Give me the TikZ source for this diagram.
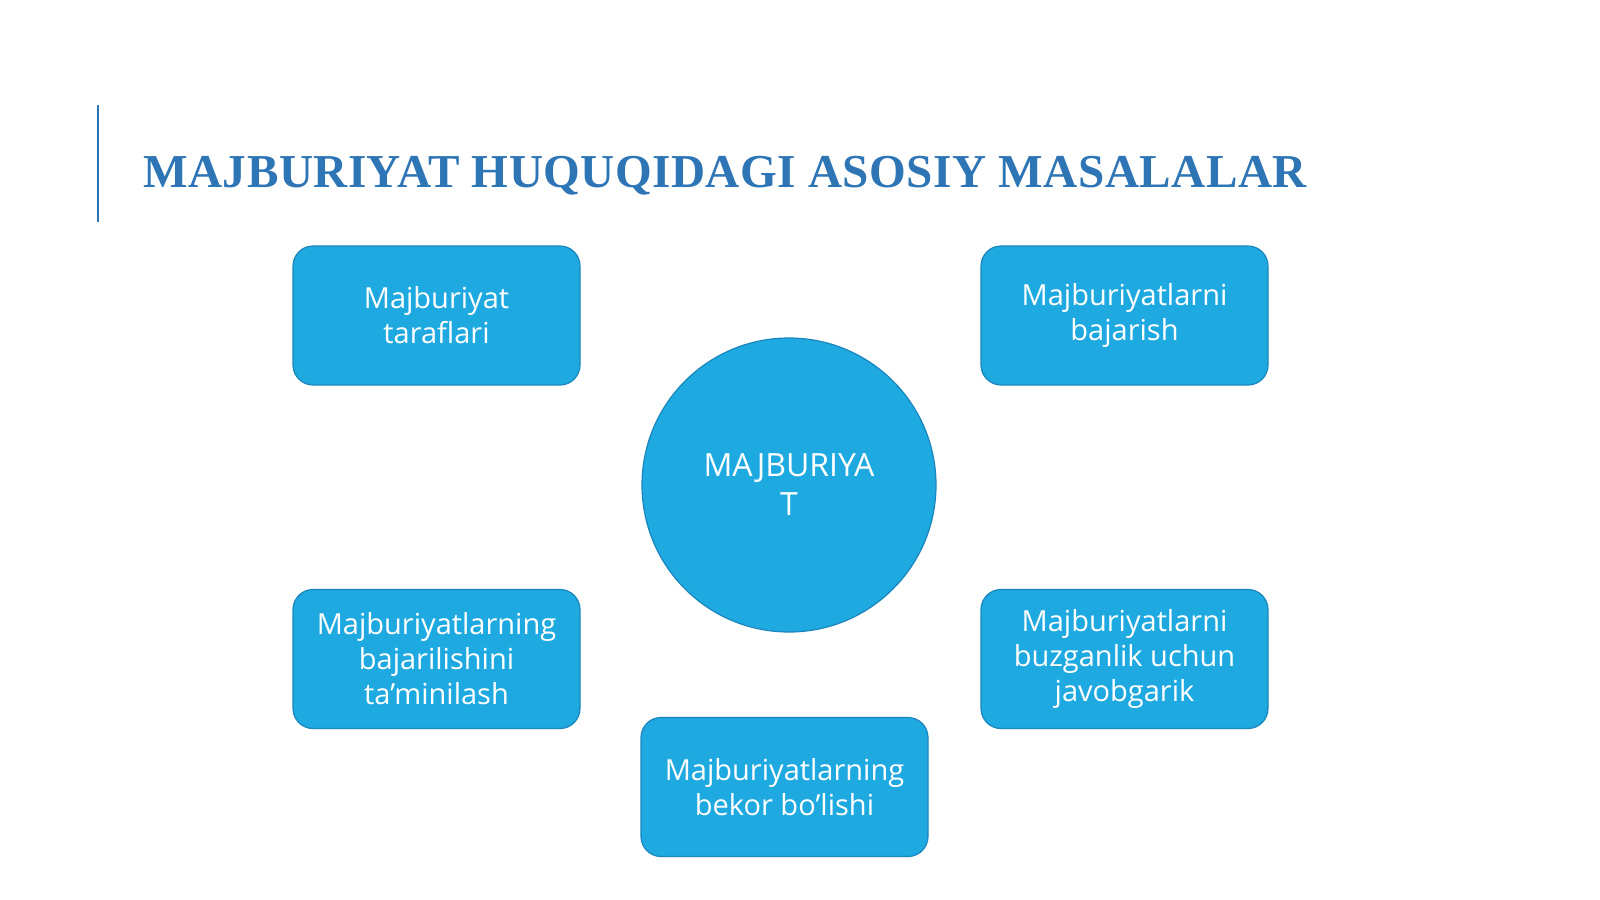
\documentclass[tikz,border=0pt]{standalone}
\usepackage{fontspec}
\setmainfont{Open Sans}
\newfontfamily\titlefont[LetterSpace=1]{Liberation Serif}
\definecolor{titleblue}{HTML}{2E75B6}
\definecolor{boxfill}{HTML}{1FA9E1}
\definecolor{boxline}{HTML}{1A86BC}
\begin{document}
\begin{tikzpicture}[x=0.5pt,y=-0.5pt,
  topic/.style={draw=boxline, line width=0.6pt, fill=boxfill, rounded corners=10pt,
    minimum width=143.5pt, minimum height=69.5pt, inner sep=0pt, align=center,
    text=white, font=\fontsize{14.5pt}{17.5pt}\selectfont},
  hub/.style={circle, draw=boxline, line width=0.6pt, fill=boxfill, minimum size=147pt,
    inner sep=0pt, align=center, text=white, font=\fontsize{16pt}{19.5pt}\selectfont},
  ttl/.style={anchor=base west, inner sep=0pt, text=titleblue,
    font=\titlefont\bfseries\fontsize{23.6pt}{28pt}\selectfont}]
\useasboundingbox (0,0) rectangle (1600,899);
\fill[white] (0,0) rectangle (1600,899);
\coordinate (bartop) at (98,105);
\coordinate (barbot) at (98,222);
\draw[titleblue, line width=1pt] (bartop) -- (barbot);
\node[ttl] (title) at (143,187) {MAJBURIYAT HUQUQIDAGI ASOSIY MASALALAR};
\node[hub] (hub) at (789,485) {MAJBURIYA\\T};
\node[topic] (tl) at (436.5,315.5) {Majburiyat\\taraflari};
\node[topic] (tr) at (1124.5,315.5) {Majburiyatlarni\\bajarish};
\node[topic] (bl) at (436.5,659) {Majburiyatlarning\\bajarilishini\\ta’minilash};
\node[topic] (br) at (1124.5,659) {Majburiyatlarni\\buzganlik uchun\\javobgarik};
\node[topic] (bc) at (784.5,787) {Majburiyatlarning\\bekor bo’lishi};
\end{tikzpicture}
\end{document}
